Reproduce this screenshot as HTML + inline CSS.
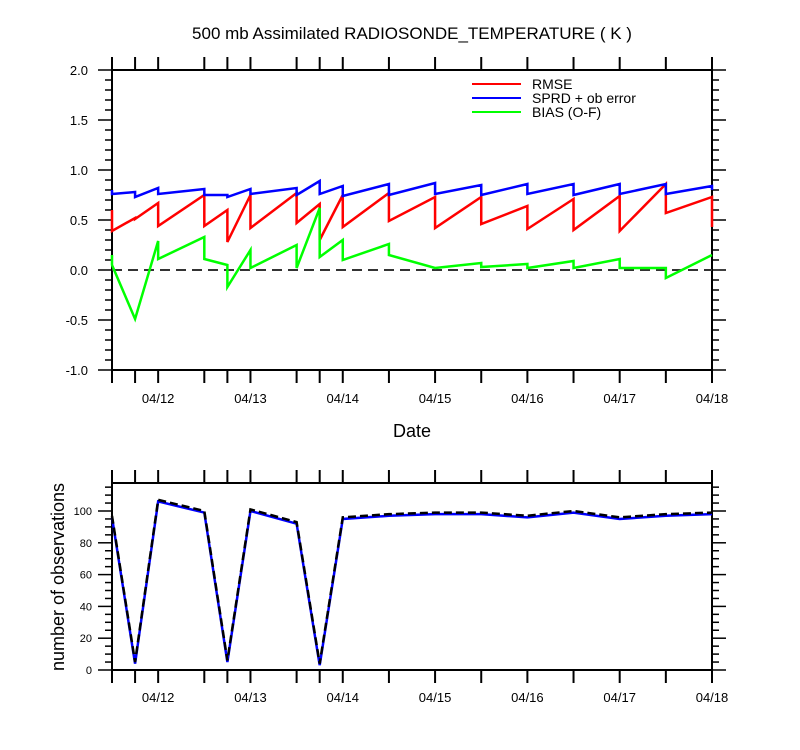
<!DOCTYPE html>
<html><head><meta charset="utf-8"><style>
body{margin:0;background:#fff}
svg{display:block;font-family:"Liberation Sans",sans-serif}
</style></head><body>
<svg id="c" width="800" height="750" viewBox="0 0 800 750"></svg>
<script>
const times=[0,1,2,4,5,6,8,9,10,12,14,16,18,20,22,24,26];
const rmsePrior=[0.6,0.52,0.67,0.75,0.60,0.75,0.77,0.66,0.75,0.77,0.73,0.73,0.64,0.71,0.74,0.86,0.73];
const rmsePost=[0.39,0.51,0.44,0.44,0.28,0.42,0.47,0.30,0.43,0.49,0.42,0.46,0.41,0.40,0.39,0.57,0.43];
const sprdPrior=[0.8,0.78,0.82,0.81,0.75,0.81,0.82,0.89,0.84,0.86,0.87,0.85,0.86,0.86,0.86,0.86,0.84];
const sprdPost=[0.76,0.73,0.76,0.75,0.73,0.76,0.75,0.76,0.74,0.75,0.76,0.75,0.76,0.75,0.76,0.76,0.8];
const biasPrior=[0.15,-0.49,0.29,0.33,0.05,0.20,0.25,0.62,0.30,0.26,0.02,0.07,0.06,0.09,0.11,0.02,0.15];
const biasPost=[0.05,-0.49,0.11,0.11,-0.17,0.02,0.02,0.13,0.10,0.15,0.02,0.03,0.02,0.02,0.02,-0.08,0.15];
const nobsUsed=[96,4,106,99,5,100,92,3,95,97,98,98,96,99,95,97,98];
const nobsTotal=[97,5,107,100,6,101,93,4,96,98,99,99,97,100,96,98,99];
const dateTicks=[2,6,10,14,18,22,26];
const dateLabels=["04/12","04/13","04/14","04/15","04/16","04/17","04/18"];
const yTicksTop=[-1,-0.5,0,0.5,1,1.5,2];
const yTicksBot=[0,20,40,60,80,100];

const S=document.getElementById('c');
const NS='http://www.w3.org/2000/svg';
function el(tag,attrs,parent){const e=document.createElementNS(NS,tag);for(const k in attrs)e.setAttribute(k,attrs[k]);(parent||S).appendChild(e);return e;}
const X0=112,X1=712;
const xs=t=>X0+t*(X1-X0)/26;
const yT=v=>270-100*v;
const yB=n=>670-1.59*n;

function frame(top,bot,name){
  const r=el('rect',{x:X0,y:top,width:X1-X0,height:bot-top,fill:'none',stroke:'#000','stroke-width':2});
  
  
  for(const t of times){
    el('line',{x1:xs(t),x2:xs(t),y1:top,y2:top-13,stroke:'#000','stroke-width':2});
    el('line',{x1:xs(t),x2:xs(t),y1:bot,y2:bot+13,stroke:'#000','stroke-width':2});
  }
}
// title
const ti=el('text',{x:412,y:39,'text-anchor':'middle','font-size':17});ti.textContent='500 mb Assimilated RADIOSONDE_TEMPERATURE ( K )';



// top panel
frame(70,370,'top-plot-frame');
for(let v=-1;v<=2.001;v+=0.1){
  const major=Math.abs(v*2-Math.round(v*2))<1e-6;const L=major?14:7;const y=yT(v);
  el('line',{x1:X0,x2:X0-L,y1:y,y2:y,stroke:'#000','stroke-width':1.5});
  el('line',{x1:X1,x2:X1+L,y1:y,y2:y,stroke:'#000','stroke-width':1.5});
}
for(const v of yTicksTop){const t=el('text',{x:88,y:yT(v)+5,'text-anchor':'end','font-size':13});t.textContent=v.toFixed(1);

}
dateTicks.forEach((d,i)=>{const t=el('text',{x:xs(d),y:403,'text-anchor':'middle','font-size':13});t.textContent=dateLabels[i];

});
const dt=el('text',{x:412,y:437,'text-anchor':'middle','font-size':18});dt.textContent='Date';


const zl=el('line',{x1:X0,x2:X1,y1:yT(0),y2:yT(0),stroke:'#333','stroke-width':2,'stroke-dasharray':'10,6'});



function saw(pre,post,color,name){
  let d='';times.forEach((t,i)=>{d+=(i?'L':'M')+xs(t)+','+yT(pre[i])+'L'+xs(t)+','+yT(post[i]);});
  const p=el('path',{d:d,fill:'none',stroke:color,'stroke-width':2.5,'stroke-linejoin':'miter'});
  
  
}
saw(rmsePrior,rmsePost,'#ff0000','rmse-line');
saw(sprdPrior,sprdPost,'#0000ff','sprd-line');
saw(biasPrior,biasPost,'#00ff00','bias-line');

// legend
[['RMSE','#ff0000'],['SPRD + ob error','#0000ff'],['BIAS (O-F)','#00ff00']].forEach((e,i)=>{
  const y=84+i*14;
  const l=el('line',{x1:472,x2:521,y1:y,y2:y,stroke:e[1],'stroke-width':2});
  
  
  const t=el('text',{x:532,y:y+5,'font-size':14});t.textContent=e[0];
  
  
});

// bottom panel
frame(483,670,'bottom-plot-frame');
for(let n=0;n<=115;n+=5){const L=n%20===0?14:7;const y=yB(n);
  el('line',{x1:X0,x2:X0-L,y1:y,y2:y,stroke:'#000','stroke-width':1.5});
  el('line',{x1:X1,x2:X1+L,y1:y,y2:y,stroke:'#000','stroke-width':1.5});}
for(const n of yTicksBot){const t=el('text',{x:92,y:yB(n)+4,'text-anchor':'end','font-size':11});t.textContent=n;

}
dateTicks.forEach((d,i)=>{const t=el('text',{x:xs(d),y:702,'text-anchor':'middle','font-size':13});t.textContent=dateLabels[i];

});
const yl=el('text',{x:0,y:0,'text-anchor':'middle','font-size':18,transform:'translate(64,577) rotate(-90)'});yl.textContent='number of observations';


function line(vals,color,dash,name){
  const d=times.map((t,i)=>(i?'L':'M')+xs(t)+','+yB(vals[i])).join('');
  const a={d:d,fill:'none',stroke:color,'stroke-width':2.5};if(dash)a['stroke-dasharray']=dash;
  const p=el('path',a);
  
  
}
line(nobsUsed,'#0000ff',null,'nobs-used-line');
line(nobsTotal,'#000','8,4','nobs-total-line');
</script>
</body></html>
